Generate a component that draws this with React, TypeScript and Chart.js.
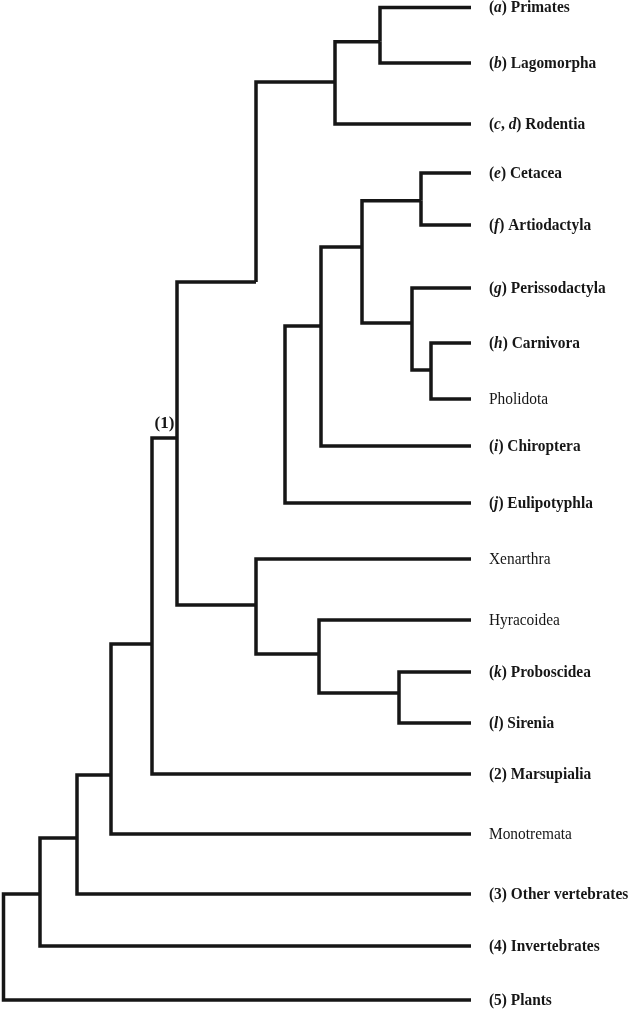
import React, { useEffect, useRef } from "react";
import { Chart, registerables } from "chart.js";

Chart.register(...registerables);

// Leaves (top to bottom). Text between *...* is italic.
const leafLabels = [
  "(*a*) Primates",
  "(*b*) Lagomorpha",
  "(*c*, *d*) Rodentia",
  "(*e*) Cetacea",
  "(*f*) Artiodactyla",
  "(*g*) Perissodactyla",
  "(*h*) Carnivora",
  "Pholidota",
  "(*i*) Chiroptera",
  "(*j*) Eulipotyphla",
  "Xenarthra",
  "Hyracoidea",
  "(*k*) Proboscidea",
  "(*l*) Sirenia",
  "(2) Marsupialia",
  "Monotremata",
  "(3) Other vertebrates",
  "(4) Invertebrates",
  "(5) Plants",
];
const leafBold = [
  true, true, true, true, true, true, true, false, true, true,
  false, false, true, true, true, false, true, true, true,
];
const leafRow = [
  7.5, 63, 124, 173, 225, 288, 343, 399, 446, 503,
  559, 620, 672, 723, 774, 834, 894, 946, 1000,
];
const tipDepth = 471;

// Internal nodes: depth (horizontal position), row of the junction, children.
const nodeIds = [
  "PL", "Euarch", "CA", "CP", "PCP", "Fer", "Scrot", "Laur", "Boreo",
  "PS", "Afro", "AX", "Euth", "Ther", "Mam", "Vert", "Anim", "Root",
];
const nodeDepth = [
  380, 335, 421, 431, 412, 362, 321, 285, 256,
  399, 319, 256, 177, 152, 111, 77, 40, 3.5,
];
const nodeRow = [
  41.7, 82, 200.7, 370, 323, 247, 326, 413, 282,
  693, 654, 605, 438, 644, 775, 838, 894, 947,
];
const nodeChildren = [
  ["L0", "L1"], ["PL", "L2"], ["L3", "L4"], ["L6", "L7"], ["L5", "CP"],
  ["CA", "PCP"], ["Fer", "L8"], ["Scrot", "L9"], ["Euarch", "Laur"],
  ["L12", "L13"], ["L11", "PS"], ["L10", "Afro"], ["Boreo", "AX"],
  ["Euth", "L14"], ["Ther", "L15"], ["Mam", "L16"], ["Vert", "L17"], ["Anim", "L18"],
];
const cladeLabel = "(1)";
const cladeNode = "Euth";

const LINE = "#161616";
const FONT = "'Liberation Serif', 'Times New Roman', serif";
const FONT_SIZE = 17;
const H_SCALE = 0.905;

function pos(id: string) {
  if (id[0] === "L") {
    const i = parseInt(id.slice(1), 10);
    return { x: tipDepth, y: leafRow[i] };
  }
  const k = nodeIds.indexOf(id);
  return { x: nodeDepth[k], y: nodeRow[k] };
}

function buildDatasets() {
  const ds: any[] = [];
  nodeIds.forEach((id, k) => {
    const nx = nodeDepth[k];
    const ny = nodeRow[k];
    nodeChildren[k].forEach((c) => {
      const p = pos(c);
      ds.push({
        data: [
          { x: nx, y: ny },
          { x: nx, y: p.y },
          { x: p.x, y: p.y },
        ],
        showLine: true,
        borderColor: LINE,
        borderWidth: 3.5,
        borderJoinStyle: "miter",
        borderCapStyle: "butt",
        pointRadius: 0,
        pointHoverRadius: 0,
        fill: false,
        tension: 0,
      });
    });
  });
  return ds;
}

function drawRich(ctx: CanvasRenderingContext2D, text: string, x: number, y: number, bold: boolean, size: number) {
  const parts = text.split("*");
  ctx.save();
  ctx.translate(x, y);
  ctx.scale(H_SCALE, 1);
  let cx = 0;
  parts.forEach((part, i) => {
    if (!part) return;
    const italic = i % 2 === 1;
    ctx.font = `${italic ? "italic " : ""}${bold ? "bold " : ""}${size}px ${FONT}`;
    ctx.fillText(part, cx, 0);
    cx += ctx.measureText(part).width;
  });
  ctx.restore();
}

const labelPlugin = {
  id: "treeLabels",
  afterDatasetsDraw(chart: any) {
    const ctx = chart.ctx as CanvasRenderingContext2D;
    const xs = chart.scales.x;
    const ys = chart.scales.y;
    ctx.save();
    ctx.fillStyle = LINE;
    ctx.textBaseline = "middle";
    ctx.textAlign = "left";
    leafLabels.forEach((lab, i) => {
      const x = xs.getPixelForValue(tipDepth) + 18;
      const y = ys.getPixelForValue(leafRow[i]) + 0.5;
      drawRich(ctx, lab, x, y, leafBold[i], FONT_SIZE);
    });
    const k = nodeIds.indexOf(cladeNode);
    const parentK = nodeChildren.findIndex((ch) => ch.includes(cladeNode));
    const lx = (xs.getPixelForValue(nodeDepth[k]) + xs.getPixelForValue(nodeDepth[parentK])) / 2;
    const ly = ys.getPixelForValue(nodeRow[k]) - 14;
    ctx.textAlign = "center";
    ctx.font = `bold ${FONT_SIZE}px ${FONT}`;
    ctx.fillText(cladeLabel, lx, ly);
    ctx.restore();
  },
};

export default function App() {
  const ref = useRef<HTMLCanvasElement | null>(null);
  useEffect(() => {
    if (!ref.current) return;
    const chart = new Chart(ref.current, {
      type: "scatter",
      data: { datasets: buildDatasets() },
      options: {
        animation: false,
        responsive: false,
        maintainAspectRatio: false,
        layout: { padding: 0 },
        plugins: {
          legend: { display: false },
          tooltip: { enabled: false },
          title: { display: false },
        },
        scales: {
          x: { type: "linear", min: 0, max: 630, display: false },
          y: { type: "linear", min: 0, max: 1011, reverse: true, display: false },
        },
      },
      plugins: [labelPlugin],
    });
    return () => chart.destroy();
  }, []);
  return (
    <div style={{ position: "fixed", left: 0, top: 0, width: 630, height: 1011, background: "#fff" }}>
      <canvas ref={ref} width={630} height={1011} style={{ display: "block" }} />
    </div>
  );
}
